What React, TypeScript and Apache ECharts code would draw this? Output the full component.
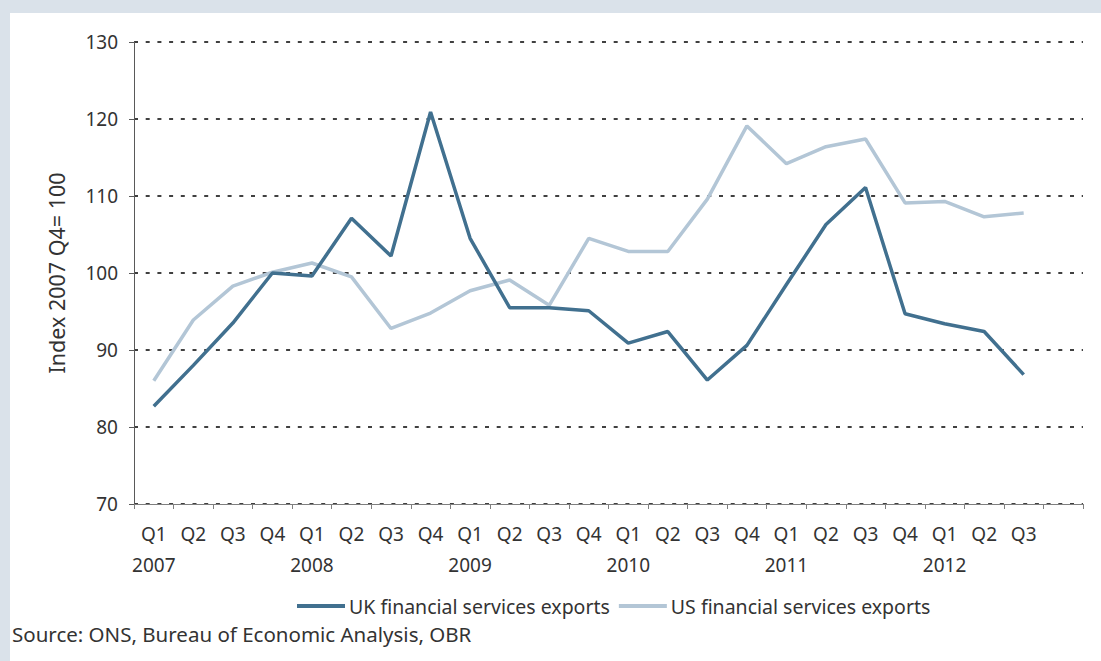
import React, { useEffect, useRef } from "react";
import * as echarts from "echarts";

const quarters = ["Q1","Q2","Q3","Q4","Q1","Q2","Q3","Q4","Q1","Q2","Q3","Q4","Q1","Q2","Q3","Q4","Q1","Q2","Q3","Q4","Q1","Q2","Q3",""];
const years = ["2007","","","","2008","","","","2009","","","","2010","","","","2011","","","","2012","","",""];

const ukExports = [82.7,88.0,93.5,100.0,99.6,107.1,102.2,120.9,104.5,95.5,95.5,95.1,90.9,92.4,86.1,90.6,98.5,106.3,111.1,94.7,93.4,92.4,86.8];
const usExports = [86.0,93.9,98.3,100.1,101.3,99.5,92.8,94.8,97.7,99.1,95.8,104.5,102.8,102.8,109.6,119.1,114.2,116.4,117.4,109.1,109.3,107.3,107.8];

const yTicks = { min: 70, max: 130, interval: 10 };

const FONT = "'Noto Sans', sans-serif";

export default function App() {
  const ref = useRef<HTMLDivElement>(null);
  useEffect(() => {
    if (!ref.current) return;
    const chart = echarts.init(ref.current, undefined, { renderer: "svg" });
    const categories = quarters.map((q, i) => (years[i] ? `${q}\n${years[i]}` : q));
    chart.setOption({
      animation: false,
      backgroundColor: "#dae2ea",
      textStyle: { fontFamily: FONT },
      graphic: [
        { type: "rect", left: 10, top: 13, shape: { width: 1091, height: 648 }, style: { fill: "#ffffff" }, z: -10, silent: true },
        { type: "text", left: 12, top: 623, style: { text: "Source: ONS, Bureau of Economic Analysis, OBR", fontSize: 20.5, fill: "#333333", fontFamily: FONT } },
      ],
      grid: { left: 134, right: 18, top: 42, bottom: 157, containLabel: false },
      legend: {
        left: 292,
        top: 591,
        itemWidth: 48,
        itemHeight: 4,
        itemGap: 9,
        icon: "rect",
        textStyle: { fontSize: 19.5, color: "#333333", fontFamily: FONT, padding: [0, 0, 0, -1] },
        data: ["UK financial services exports", "US financial services exports"],
      },
      xAxis: {
        type: "category",
        data: categories,
        boundaryGap: true,
        axisLine: { show: true, lineStyle: { color: "#7f7f7f", width: 1 } },
        axisTick: { show: true, length: 5, interval: 0, lineStyle: { color: "#7f7f7f" } },
        axisLabel: { interval: 0, fontSize: 19, color: "#333333", margin: 14, lineHeight: 31, fontFamily: FONT },
        splitLine: { show: false },
      },
      yAxis: {
        type: "value",
        min: yTicks.min,
        max: yTicks.max,
        interval: yTicks.interval,
        name: "Index 2007 Q4= 100",
        nameLocation: "middle",
        nameGap: 67,
        nameRotate: 90,
        nameTextStyle: { fontSize: 21.5, color: "#333333", fontFamily: FONT },
        axisLine: { show: true, lineStyle: { color: "#595959", width: 1 } },
        axisTick: { show: true, length: 5, lineStyle: { color: "#595959" } },
        axisLabel: { fontSize: 19, color: "#333333", margin: 16, fontFamily: FONT },
        splitLine: { show: true, lineStyle: { color: "#404040", width: 2, type: [4, 7.7] } },
      },
      series: [
        {
          name: "US financial services exports",
          type: "line",
          data: usExports,
          symbol: "none",
          lineStyle: { color: "#b3c6d6", width: 3.5 },
          itemStyle: { color: "#b3c6d6" },
          z: 2,
        },
        {
          name: "UK financial services exports",
          type: "line",
          data: ukExports,
          symbol: "none",
          lineStyle: { color: "#41708f", width: 3.5 },
          itemStyle: { color: "#41708f" },
          z: 3,
        },
      ],
    });
    return () => chart.dispose();
  }, []);
  return <div ref={ref} style={{ position: "fixed", left: 0, top: 0, width: 1101, height: 661 }} />;
}
